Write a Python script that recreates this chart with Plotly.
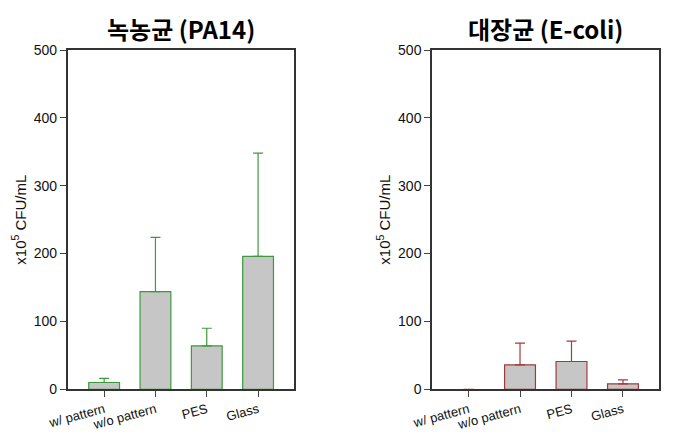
import plotly.graph_objects as go

categories = ["w/ pattern", "w/o pattern", "PES", "Glass"]
pa14_values = [10, 144, 64, 196]
pa14_err = [6, 80, 26, 152]
ecoli_values = [0, 36, 41, 8]
ecoli_err = [None, 32, 30, 6]
y_ticks = [0, 100, 200, 300, 400, 500]

green = "#3c9a3c"
red = "#a03c3c"
gray = "#c6c6c6"
font_fam = "Liberation Sans, Arial, sans-serif"

fig = go.Figure()

def add_bars(values, errs, color, xa, ya):
    fig.add_trace(go.Bar(
        x=list(range(len(categories))), y=values,
        width=0.6,
        marker=dict(color=gray, line=dict(color=color, width=[0 if v == 0 else 1.2 for v in values])),
        error_y=dict(type="data", array=errs, arrayminus=[0]*len(errs),
                     symmetric=False, color=color, thickness=1.2, width=5),
        xaxis=xa, yaxis=ya, showlegend=False,
    ))

add_bars(pa14_values, pa14_err, green, "x", "y")
add_bars(ecoli_values, ecoli_err, red, "x2", "y2")

ydom = [1 - 389.3/446, 1 - 50/446]
xcommon = dict(
    tickmode="array", tickvals=list(range(len(categories))), ticktext=categories,
    range=[-0.71, 3.70], tickangle=-15, ticks="outside", ticklen=6,
    showline=True, linecolor="#333", linewidth=1.5, mirror=True,
    showgrid=False, zeroline=False, automargin=False,
    tickfont=dict(family=font_fam, size=13, color="#111"),
)
ycommon = dict(
    range=[0, 500], tickvals=y_ticks, ticks="outside", ticklen=6,
    showline=True, linecolor="#333", linewidth=1.5, mirror=True,
    showgrid=False, zeroline=False, automargin=False,
    tickfont=dict(family=font_fam, size=14, color="#111"),
    title=dict(text="x10<sup>5</sup> CFU/mL", font=dict(family=font_fam, size=15, color="#111"), standoff=4),
)

fig.update_layout(
    width=685, height=446,
    margin=dict(l=0, r=0, t=0, b=0),
    plot_bgcolor="white", paper_bgcolor="white",
    bargap=0.4,
    xaxis=dict(domain=[67.7/685, 294/685], anchor="y", **xcommon),
    yaxis=dict(domain=ydom, anchor="x", **ycommon),
    xaxis2=dict(domain=[432/685, 659/685], anchor="y2", **xcommon),
    yaxis2=dict(domain=ydom, anchor="x2", **ycommon),
    annotations=[
        dict(text="<b>녹농균 (PA14)</b>", x=(67.7+294)/2/685, y=1-29/446, xref="paper", yref="paper",
             showarrow=False, xanchor="center", yanchor="middle",
             font=dict(family="Noto Sans CJK KR", size=24, color="#000")),
        dict(text="<b>대장균 (E-coli)</b>", x=(432+659)/2/685, y=1-29/446, xref="paper", yref="paper",
             showarrow=False, xanchor="center", yanchor="middle",
             font=dict(family="Noto Sans CJK KR", size=24, color="#000")),
    ],
)

fig.write_html("out.html")
